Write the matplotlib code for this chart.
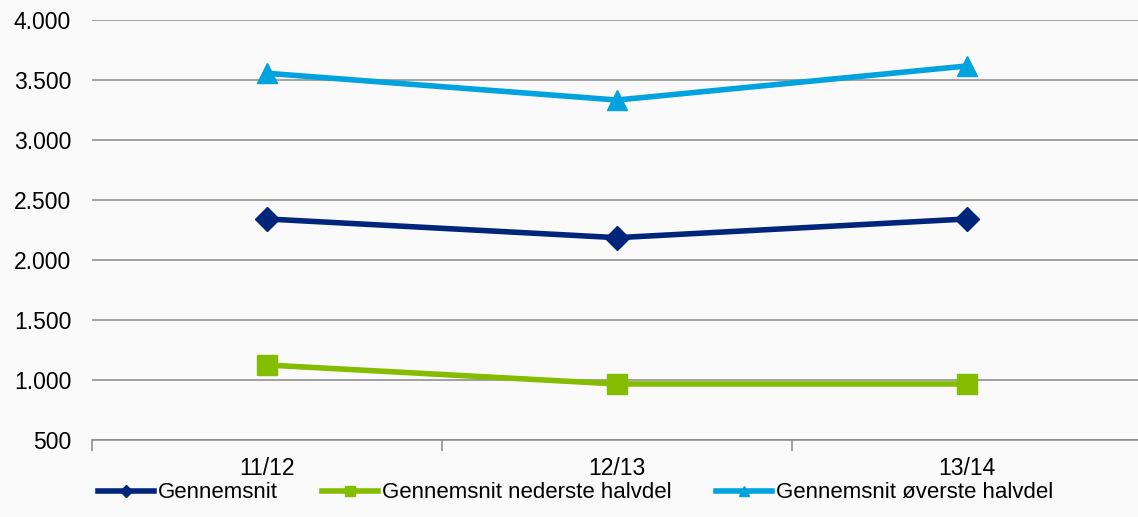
import matplotlib
matplotlib.use("Agg")
import matplotlib.pyplot as plt
from matplotlib.ticker import FixedLocator, FuncFormatter

categories = ["11/12", "12/13", "13/14"]
gennemsnit = [2342, 2186, 2342]
nederste = [1125, 967, 967]
overste = [3556, 3333, 3617]
series_labels = ["Gennemsnit", "Gennemsnit nederste halvdel", "Gennemsnit øverste halvdel"]
y_ticks = [500, 1000, 1500, 2000, 2500, 3000, 3500, 4000]

plt.rcParams['font.family'] = ['Liberation Sans', 'DejaVu Sans']

bg = "#FAFAFA"
fig = plt.figure(figsize=(11.38, 5.17), dpi=100, facecolor=bg)
ax = fig.add_axes([92/1138, 77/517, 1050/1138, 420/517], facecolor=bg)

x = list(range(len(categories)))
c_navy = "#00257A"
c_green = "#84BD00"
c_blue = "#00A3DE"

ax.plot(x, gennemsnit, color=c_navy, lw=4, marker="D", ms=12.5, label=series_labels[0], zorder=3)
ax.plot(x, nederste, color=c_green, lw=4, marker="s", ms=14.5, label=series_labels[1], zorder=3)
ax.plot(x, overste, color=c_blue, lw=4, marker="^", ms=15, label=series_labels[2], zorder=3)

ax.set_xlim(-0.5, len(categories) - 0.5)
ax.set_ylim(500, 4000)
ax.set_yticks(y_ticks)
ax.yaxis.set_major_formatter(FuncFormatter(lambda v, p: f"{int(v):,}".replace(",", ".")))
ax.grid(axis="y", color="#888888", lw=1.1, zorder=0)
ax.set_axisbelow(True)

ax.set_xticks(x)
ax.set_xticklabels(categories)
ax.xaxis.set_minor_locator(FixedLocator([i - 0.5 for i in range(len(categories) + 1)]))
ax.tick_params(axis="x", which="major", length=0, pad=12, labelsize=16.5, colors="black")
ax.tick_params(axis="x", which="minor", length=8, width=1.1, color="#888888")
ax.tick_params(axis="y", length=0, pad=15, labelsize=16.5)

for s in ["left", "right", "top"]:
    ax.spines[s].set_visible(False)
ax.spines["bottom"].set_color("#888888")
ax.spines["bottom"].set_linewidth(1.1)

fig.legend(loc="center", bbox_to_anchor=(0.506, 24/517), ncol=3, frameon=False,
           fontsize=16, handlelength=2.5, handletextpad=0.2, columnspacing=2.0,
           markerscale=0.5)

fig.savefig("out.png", dpi=100, facecolor=bg)
